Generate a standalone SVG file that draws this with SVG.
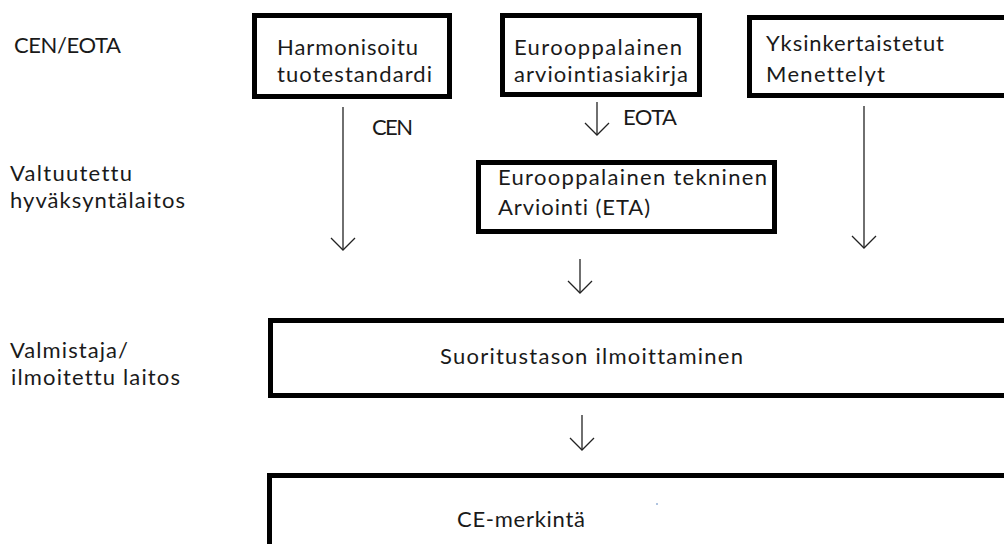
<svg xmlns="http://www.w3.org/2000/svg" width="1004" height="544" viewBox="0 0 1004 544">
<style>
.box{fill:#fff;stroke:#000;stroke-width:5}
text{font-family:Lato,"Open Sans","Liberation Sans",sans-serif;font-size:22px;fill:#1a1a1a;font-variant-ligatures:none;font-feature-settings:"liga" 0,"clig" 0}
.con{stroke:#222;stroke-width:1.3;fill:none}
</style>
<defs>
<marker id="ah" markerUnits="userSpaceOnUse" markerWidth="30" markerHeight="30" viewBox="-15 -15 30 30" refX="0" refY="0" orient="auto" overflow="visible">
<path d="M-12,-12 L0,0 L-12,12" fill="none" stroke="#222" stroke-width="1.3"/>
</marker>
</defs>
<rect width="1004" height="544" fill="#fff"/>
<g id="labels">
<text x="14" y="53" textLength="107">CEN/EOTA</text>
<text x="10" y="181" textLength="122">Valtuutettu</text>
<text x="10" y="208" textLength="175">hyväksyntälaitos</text>
<text x="10" y="358" textLength="118">Valmistaja/</text>
<text x="11" y="385" textLength="169">ilmoitettu laitos</text>
</g>
<g id="harmonisoitu">
<rect class="box" x="254.5" y="15.5" width="195" height="81"/>
<text x="277" y="55" textLength="141">Harmonisoitu</text>
<text x="277" y="82" textLength="155">tuotestandardi</text>
</g>
<g id="arviointiasiakirja">
<rect class="box" x="502.5" y="15.5" width="197" height="79"/>
<text x="514" y="55" textLength="168">Eurooppalainen</text>
<text x="514" y="82" textLength="174">arviointiasiakirja</text>
</g>
<g id="yksinkertaistetut">
<rect class="box" x="749.5" y="17.5" width="300" height="78"/>
<text x="766" y="51" textLength="178">Yksinkertaistetut</text>
<text x="766" y="82" textLength="119">Menettelyt</text>
</g>
<g id="eta">
<rect class="box" x="478.5" y="162.5" width="296" height="69"/>
<text x="498" y="185" textLength="269">Eurooppalainen tekninen</text>
<text x="498" y="215" textLength="152">Arviointi (ETA)</text>
</g>
<g id="suoritustaso">
<rect class="box" x="270.5" y="320.5" width="740" height="75"/>
<text x="440" y="364" textLength="303">Suoritustason ilmoittaminen</text>
</g>
<g id="ce">
<rect class="box" x="269.5" y="475.5" width="740" height="100"/>
<text x="457" y="527" textLength="128">CE-merkintä</text>
<circle cx="657" cy="504" r="0.8" fill="#4a7ab8"/>
</g>
<g id="connectors">
<line class="con" x1="343" y1="107" x2="343" y2="250" marker-end="url(#ah)"/>
<text x="372" y="135" textLength="41">CEN</text>
<line class="con" x1="597" y1="102" x2="597" y2="135" marker-end="url(#ah)"/>
<text x="623" y="125" textLength="54">EOTA</text>
<line class="con" x1="864" y1="106" x2="864" y2="248" marker-end="url(#ah)"/>
<line class="con" x1="580" y1="259" x2="580" y2="293" marker-end="url(#ah)"/>
<line class="con" x1="582" y1="415" x2="582" y2="450" marker-end="url(#ah)"/>
</g>
</svg>
